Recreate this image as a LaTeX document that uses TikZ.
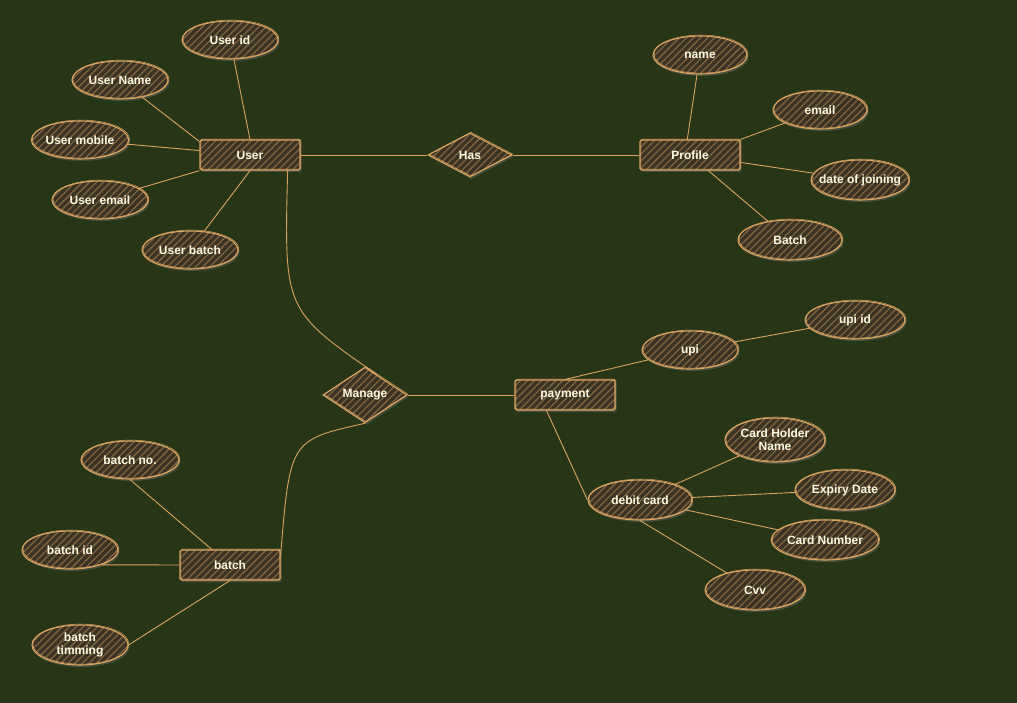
\documentclass[tikz,border=0pt]{standalone}
\usepackage{fontspec}
\setmainfont{Liberation Sans}
\usetikzlibrary{shapes.geometric,patterns.meta,shadows}
\definecolor{bg}{HTML}{283618}
\definecolor{edge}{HTML}{D9A460}
\definecolor{body}{HTML}{3A3324}
\definecolor{hatch}{HTML}{7E6440}
\definecolor{txt}{HTML}{FEFAE0}
\tikzset{
  base/.style={draw=edge, line width=1.1pt, text=txt, font=\bfseries\fontsize{12}{13}\selectfont,
    align=center, inner sep=0pt,
    preaction={fill=body, drop shadow={shadow xshift=1.5pt, shadow yshift=-2pt, opacity=0.35}},
    pattern={Lines[angle=45,distance=5pt,line width=1.3pt]}, pattern color=hatch,
    postaction={draw=edge, line width=0.5pt, transform canvas={shift={(0.9pt,0.9pt)}}}},
  attr/.style={base, ellipse, minimum width=96pt, minimum height=38pt},
  ent/.style={base, rectangle, rounded corners=1.5pt, minimum width=100pt, minimum height=30pt},
  rel/.style={base, diamond, minimum width=84pt, minimum height=44pt},
  link/.style={draw=edge, line width=0.9pt},
}
\begin{document}
\begin{tikzpicture}[x=1pt,y=-1pt]
\useasboundingbox[fill=bg] (0,0) rectangle (1017,703);

% entities and relations
\node[ent] (user) at (250,155) {User};
\node[rel] (has) at (470,155) {Has};
\node[ent] (profile) at (690,155) {Profile};
\node[rel, minimum height=40pt] (manage) at (365,395) {Manage};
\node[ent] (payment) at (565,395) {payment};
\node[ent] (batch) at (230,565) {batch};

% user attributes
\node[attr] (uid) at (230,40) {User id};
\node[attr] (uname) at (120,80) {User Name};
\node[attr] (umobile) at (80,140) {User mobile};
\node[attr] (uemail) at (100,200) {User email};
\node[attr] (ubatch) at (190,250) {User batch};

% profile attributes
\node[attr, minimum width=94pt] (pname) at (700,55) {name};
\node[attr, minimum width=94pt] (pemail) at (820,110) {email};
\node[attr, minimum width=98pt, minimum height=40pt, inner xsep=-8pt] (pdoj) at (860,180) {date of joining};
\node[attr, minimum width=104pt, minimum height=40pt] (pbatch) at (790,240) {Batch};

% payment attributes
\node[attr] (upi) at (690,350) {upi};
\node[attr, minimum width=100pt] (upiid) at (855,320) {upi id};
\node[attr, minimum width=104pt, minimum height=40pt] (debit) at (640,500) {debit card};
\node[attr, minimum width=100pt, minimum height=44pt, inner xsep=-6pt, inner ysep=-4pt] (chn) at (775,440) {Card Holder\\Name};
\node[attr, minimum width=100pt, minimum height=40pt] (exp) at (845,490) {Expiry Date};
\node[attr, minimum width=100pt, minimum height=40pt] (cnum) at (825,540) {Card Number};
\node[attr, minimum width=100pt, minimum height=40pt] (cvv) at (755,590) {Cvv};

% batch attributes
\node[attr, minimum width=98pt] (bno) at (130,460) {batch no.};
\node[attr] (bid) at (70,550) {batch id};
\node[attr, minimum height=40pt] (btim) at (80,645) {batch\\timming};

% connectors
\draw[link] (user.north) -- (uid);
\draw[link] (user.165) -- (uname);
\draw[link] (user) -- (umobile);
\draw[link] (user.south west) -- (uemail);
\draw[link] (user.south) -- (ubatch);
\draw[link] (user) -- (has);
\draw[link] (has) -- (profile);
\draw[link] (profile.100) -- (pname);
\draw[link] (profile.north east) -- (pemail);
\draw[link] (profile) -- (pdoj);
\draw[link] (profile) -- (pbatch);
\draw[link] (user.south east) ++(-13,0) coordinate (us)
  (us) .. controls (284,310) .. (manage.60);
\draw[link] (manage.south) .. controls (290,440) .. (batch.10);
\draw[link] (manage) -- (payment);
\draw[link] (payment.north) -- (upi);
\draw[link] (upi) -- (upiid);
\draw[link] (payment.south west) ++(32,0) coordinate (ps) (ps) -- (debit.west);
\draw[link] (debit) -- (chn);
\draw[link] (debit) -- (exp);
\draw[link] (debit) -- (cnum);
\draw[link] (debit.south) -- (cvv);
\draw[link] (batch) -- (bno.south);
\draw[link] (batch.west) -- (bid.-25);
\draw[link] (batch.south) -- (btim.east);
\end{tikzpicture}
\end{document}
